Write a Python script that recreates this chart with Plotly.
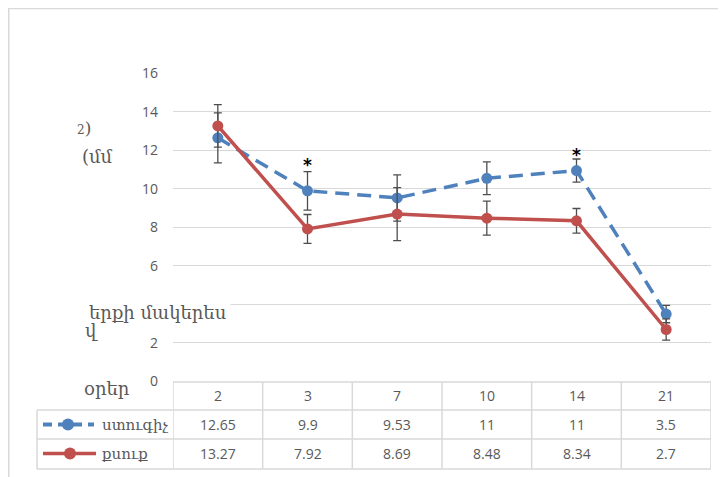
import plotly.graph_objects as go

# ---- data ----
days = ["2", "3", "7", "10", "14", "21"]
control_name = "ստուգիչ"
cream_name = "քսուք"
control_values = [12.65, 9.9, 9.53, 10.55, 10.95, 3.5]      # plotted points
control_table = ["12.65", "9.9", "9.53", "11", "11", "3.5"]  # values printed in table
control_err = [1.3, 1.0, 1.2, 0.85, 0.6, 0.45]
cream_values = [13.27, 7.92, 8.69, 8.48, 8.34, 2.7]
cream_table = ["13.27", "7.92", "8.69", "8.48", "8.34", "2.7"]
cream_err = [1.1, 0.75, 1.38, 0.88, 0.64, 0.55]
star_index = [1, 4]
star_y = [11.22, 11.78]
y_tickvals = [0, 2, 4, 6, 8, 10, 12, 14, 16]
y_ticktext = ["0", "2", "", "6", "8", "10", "12", "14", "16"]  # "4" is hidden behind the axis title

W, H = 726, 477
OFF = 8  # page body margin
BLUE = "#4F81BD"
RED = "#C0504D"
GRID = "#d9d9d9"
TXT = "#595959"
NUMFONT = "Open Sans"
ARMFONT = "DejaVu Serif"

def px(x):
    return max(0.0, (x - OFF) / W)

def py(y):
    return min(1.0, 1 - (y - OFF) / H)

xs = list(range(len(days)))

fig = go.Figure()
fig.add_trace(go.Scatter(
    x=xs, y=control_values, mode="lines+markers", name=control_name,
    line=dict(color=BLUE, width=3.5, dash="14px,8px"),
    marker=dict(color=BLUE, size=11),
    error_y=dict(type="data", array=control_err, color="#4d4d4d", thickness=1.3, width=4),
    cliponaxis=False, showlegend=False))
fig.add_trace(go.Scatter(
    x=xs, y=cream_values, mode="lines+markers", name=cream_name,
    line=dict(color=RED, width=3.5),
    marker=dict(color=RED, size=11),
    error_y=dict(type="data", array=cream_err, color="#4d4d4d", thickness=1.3, width=4),
    cliponaxis=False, showlegend=False))

plot_top, plot_bot = 73.3, 381.5
fig.update_layout(
    template="none",
    width=W, height=H, margin=dict(l=0, r=0, t=0, b=0, pad=0),
    paper_bgcolor="white", plot_bgcolor="white",
    xaxis=dict(domain=[px(173), px(711)], range=[-0.5, 5.5], visible=False, automargin=False),
    yaxis=dict(domain=[py(plot_bot), py(plot_top)], range=[0, 16], automargin=False,
               tickmode="array", tickvals=y_tickvals, ticktext=y_ticktext,
               showgrid=True, gridcolor=GRID, gridwidth=1, zeroline=False,
               showline=False, ticks="", ticklabelstandoff=14,
               tickfont=dict(family=NUMFONT, size=14, color=TXT)),
)

shapes = []
# outer frame
shapes.append(dict(type="line", xref="paper", yref="paper", x0=px(4), x1=1, y0=py(6) - 0.001, y1=py(6) - 0.001,
                   line=dict(color=GRID, width=1.5)))
shapes.append(dict(type="line", xref="paper", yref="paper", x0=px(4) + 0.001, x1=px(4) + 0.001, y0=py(6), y1=0,
                   line=dict(color=GRID, width=1.5)))
# data table grid
row_y = [382, 410, 439, 469]
shapes.append(dict(type="line", xref="x", yref="paper", x0=-0.5, x1=5.5, y0=py(row_y[0]), y1=py(row_y[0]),
                   line=dict(color=GRID, width=1.5)))
for ry in row_y[1:]:
    shapes.append(dict(type="line", xref="paper", yref="paper", x0=px(37), x1=px(711), y0=py(ry), y1=py(ry),
                       line=dict(color=GRID, width=1.5)))
for i in range(len(days) + 1):
    shapes.append(dict(type="line", xref="x", yref="paper", x0=i - 0.5, x1=i - 0.5,
                       y0=py(row_y[0]), y1=py(row_y[3]), line=dict(color=GRID, width=1.5)))
shapes.append(dict(type="line", xref="paper", yref="paper", x0=px(37), x1=px(37),
                   y0=py(row_y[1]), y1=py(row_y[3]), line=dict(color=GRID, width=1.5)))
# legend keys in table
shapes.append(dict(type="line", xref="paper", yref="paper", x0=px(43), x1=px(94), y0=py(424.5), y1=py(424.5),
                   line=dict(color=BLUE, width=4, dash="9px,6px")))
shapes.append(dict(type="circle", xref="paper", yref="paper", x0=px(62), x1=px(74), y0=py(430.5), y1=py(418.5),
                   fillcolor=BLUE, line=dict(color=BLUE, width=0)))
shapes.append(dict(type="line", xref="paper", yref="paper", x0=px(43), x1=px(96), y0=py(453.5), y1=py(453.5),
                   line=dict(color=RED, width=3.5)))
shapes.append(dict(type="circle", xref="paper", yref="paper", x0=px(64), x1=px(76), y0=py(459.5), y1=py(447.5),
                   fillcolor=RED, line=dict(color=RED, width=0)))
fig.update_layout(shapes=shapes)

ann = []
def tann(text, x, y, size, family, color=TXT, xref="paper", xanchor="center", bg=None, pad=1):
    d = dict(text=text, x=x, y=y, xref=xref, yref="paper", showarrow=False,
             xanchor=xanchor, yanchor="middle", borderpad=pad,
             font=dict(family=family, size=size, color=color))
    if bg:
        d["bgcolor"] = bg
    ann.append(d)

for i, d in enumerate(days):
    tann(d, i, py(395), 14, NUMFONT, xref="x")
    tann(control_table[i], i, py(424.5), 14, NUMFONT, xref="x")
    tann(cream_table[i], i, py(453.5), 14, NUMFONT, xref="x")
tann(control_name, px(100), py(424.5), 15, ARMFONT, xanchor="left")
tann(cream_name, px(100), py(453.5), 15, ARMFONT, xanchor="left")

# axis title fragments
tann("<span style='font-size:12px'>2</span>)", px(84), py(128), 17, ARMFONT)
tann("(մմ", px(97), py(156), 18, ARMFONT)
tann("երքի մակերես", px(157), py(312), 18, ARMFONT, bg="white", pad=4)
tann("վ", px(91), py(330), 18, ARMFONT)
tann("օրեր", px(107), py(388), 18, ARMFONT)

for i, sy in zip(star_index, star_y):
    ann.append(dict(text="<b>*</b>", x=i, y=sy, xref="x", yref="y", showarrow=False,
                    yanchor="middle", font=dict(family="DejaVu Sans", size=17, color="black")))
fig.update_layout(annotations=ann)

fig.write_html("out.html")
